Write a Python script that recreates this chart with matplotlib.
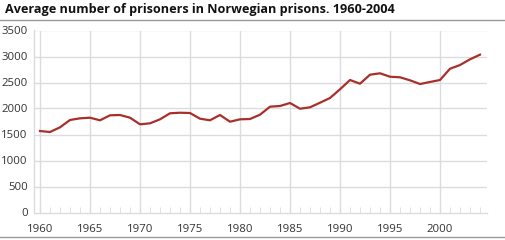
import matplotlib
matplotlib.use("Agg")
import matplotlib.pyplot as plt
from matplotlib.ticker import MultipleLocator
from matplotlib.lines import Line2D

plt.rcParams['font.family'] = ['Open Sans', 'DejaVu Sans']

years = list(range(1960, 2005))
prisoners = [1567, 1548, 1638, 1779, 1811, 1823, 1773, 1869, 1875, 1823,
             1696, 1715, 1792, 1908, 1919, 1913, 1804, 1773, 1875, 1746,
             1792, 1798, 1881, 2035, 2048, 2106, 1996, 2023, 2111, 2202,
             2369, 2548, 2477, 2650, 2677, 2611, 2600, 2542, 2471, 2510,
             2548, 2765, 2836, 2946, 3035]
title = "Average number of prisoners in Norwegian prisons. 1960-2004"
xticks = [1960, 1965, 1970, 1975, 1980, 1985, 1990, 1995, 2000]
yticks = [0, 500, 1000, 1500, 2000, 2500, 3000, 3500]

fig = plt.figure(figsize=(5.06, 2.40), dpi=100)
ax = fig.add_axes([34.5/506, 1-212.5/240, (487-34.5)/506, (212.5-30.5)/240])

grid_c = '#dcdce0'
for y in yticks[1:]:
    ax.axhline(y, color=grid_c, lw=1.0, zorder=1)
for x in xticks:
    ax.axvline(x, color=grid_c, lw=1.0, zorder=1)

ax.plot(years, prisoners, color='#a8302b', lw=1.6, zorder=3, solid_joinstyle='round')

ax.set_xlim(1959.45, 2004.7)
ax.set_ylim(0, 3500)
ax.set_xticks(xticks)
ax.set_yticks(yticks)
ax.xaxis.set_minor_locator(MultipleLocator(1))
ax.tick_params(axis='x', which='both', direction='in', length=4, color=grid_c,
               labelsize=8.2, labelcolor='#333333', pad=8)
ax.tick_params(axis='y', which='both', length=0, labelsize=8.2, labelcolor='#333333', pad=5)
for s in ['top', 'right']:
    ax.spines[s].set_visible(False)
for s in ['left', 'bottom']:
    ax.spines[s].set_color(grid_c)
    ax.spines[s].set_linewidth(1.0)

fig.text(5/506, 1-10/240, title, fontsize=9.1, fontweight='bold', color='#111111',
         ha='left', va='center')
fig.add_artist(Line2D([0, 1], [1-20/240, 1-20/240], color='#9a9a9a', lw=1.0))
fig.add_artist(Line2D([0, 1], [1-237/240, 1-237/240], color='#9a9a9a', lw=1.0))

fig.savefig('out.png', dpi=100)
